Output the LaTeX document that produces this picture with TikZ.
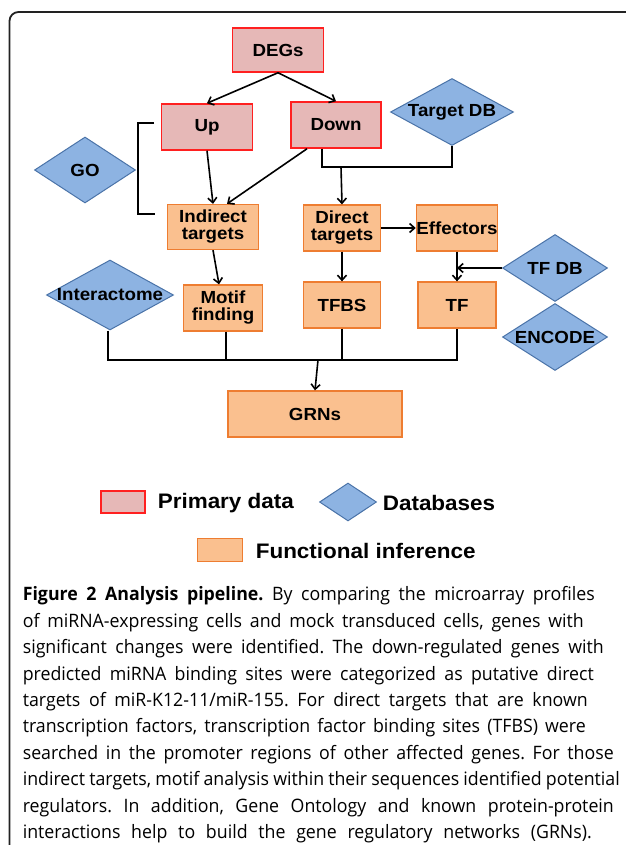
\documentclass[tikz,border=0pt]{standalone}
\usepackage{fontspec}
\newfontfamily\boxfont{Liberation Sans}[FakeStretch=1.07]
\newfontfamily\capfont{Open Sans}[FakeStretch=0.96]
\usetikzlibrary{shapes.geometric,arrows.meta}
\definecolor{pinkfill}{HTML}{E6B8B7}
\definecolor{redline}{HTML}{FF2020}
\definecolor{dbfill}{HTML}{8DB3E2}
\definecolor{dbline}{HTML}{4A73A8}
\definecolor{inffill}{HTML}{FAC08F}
\definecolor{infline}{HTML}{EE7D31}
\definecolor{frameline}{HTML}{222222}
\newcommand\capline[2]{\makebox[#1pt][s]{#2}}
\frenchspacing
\tikzset{
  primary/.style={draw=redline,fill=pinkfill,line width=1.5pt,inner sep=0pt,
    minimum width=91pt,minimum height=45pt,align=center},
  inference/.style={draw=infline,fill=inffill,line width=1.3pt,inner sep=0pt,
    minimum width=78pt,minimum height=46pt,align=center},
  database/.style={diamond,draw=dbline,fill=dbfill,line width=1pt,inner sep=0pt,
    minimum width=105pt,minimum height=67pt},
  legendtext/.style={anchor=west,inner sep=0pt,font=\boxfont\bfseries\fontsize{21}{23}\selectfont}
}
\begin{document}
\begin{tikzpicture}[
    x=1pt, y=-1pt, line width=1.6pt, >={Straight Barb[length=5pt,width=9pt]},
    every node/.style={font=\boxfont\bfseries\fontsize{17.5}{17}\selectfont}]
    \useasboundingbox (0,0) rectangle (625,845);
    \draw[frameline,line width=1.8pt,rounded corners=9pt] (9.5,848) -- (9.5,12) -- (628,12);
    % primary data
    \node[primary,minimum height=44pt] (degs) at (278,50) {DEGs};
    \node[primary,minimum height=46pt] (up) at (207,127) {Up};
    \node[primary,minimum width=90pt,minimum height=46pt] (down) at (336,125) {Down};
    % databases
    \node[database,minimum width=123pt,label=center:Target DB] (targetdb) at (452,112) {};
    \node[database,minimum width=101pt,minimum height=66pt,label=center:GO] (go) at (85,170) {};
    \node[database,minimum width=127pt,minimum height=70pt,label=center:Interactome] (interactome) at (110,295) {};
    \node[database,label=center:TF DB] (tfdb) at (555,268) {};
    \node[database,label=center:ENCODE] (encode) at (555,337) {};
    % functional inference
    \node[inference,minimum width=91pt,minimum height=45pt] (indirect) at (213,227) {Indirect\\targets};
    \node[inference,minimum width=77pt] (direct) at (342,228) {Direct\\targets};
    \node[inference] (effectors) at (457,228) {Effectors};
    \node[inference,minimum width=79pt] (motif) at (223,308) {Motif\\finding};
    \node[inference,minimum width=77pt] (tfbs) at (342,305) {TFBS};
    \node[inference] (tf) at (457,305) {TF};
    \node[inference,minimum width=174pt] (grns) at (315,414) {GRNs};
    % connectors
    \draw[->] (degs.south) -- (up.north);
    \draw[->] (degs.south) -- (down.north);
    \draw[->] (up.south) -- (indirect.north);
    \draw[->] ([xshift=-29pt]down.south) -- ([xshift=14pt]indirect.north);
    \coordinate (split) at (341,167);
    \draw ([xshift=-14pt]down.south) |- (split) -| (targetdb.south);
    \draw[->] (split) -- (direct.north);
    \draw[->] (direct.east) -- (effectors.west);
    \draw[->] (effectors.south) -- (tf.north);
    \draw[->] (tfdb.west) -- (tfdb.west -| effectors.south);
    \draw[->] (indirect.south) -- ([xshift=-4pt]motif.north);
    \draw[->] (direct.south) -- (tfbs.north);
    \coordinate (brtop) at (154,123);
    \coordinate (brbot) at (155,214);
    \draw (brtop) -- ++(-16,0) |- (brbot);
    \coordinate (bus) at (318,360);
    \draw ([xshift=-2pt]interactome.south) |- (tf.south |- bus) -- (tf.south);
    \draw ([xshift=3pt]motif.south) -- ([xshift=3pt]motif.south |- bus);
    \draw (tfbs.south) -- (tfbs.south |- bus);
    \draw[->] (bus) -- (grns.north);
    % legend
    \node[primary,line width=1.3pt,minimum width=44pt,minimum height=22pt] (legprimary) at (123,502) {};
    \node[legendtext] (legprimarytext) at (157,503) {Primary data};
    \node[database,minimum width=57pt,minimum height=38pt] (legdb) at (348,502) {};
    \node[legendtext] (legdbtext) at (382,503) {Databases};
    \node[inference,minimum width=45pt,minimum height=23pt] (leginf) at (220,550) {};
    \node[legendtext] (leginftext) at (255,551) {Functional inference};
    % caption
    \node[anchor=north west,inner sep=0pt,align=left,
      font=\capfont\fontsize{18.5}{26.4}\selectfont] (caption) at (22,586)
      {\capline{572}{{\bfseries Figure 2 Analysis pipeline.} By comparing the microarray profiles}\\
       \capline{561}{of miRNA-expressing cells and mock transduced cells, genes with}\\
       \capline{581}{significant changes were identified. The down-regulated genes with}\\
       \capline{571}{predicted miRNA binding sites were categorized as putative direct}\\
       \capline{565}{targets of miR-K12-11/miR-155. For direct targets that are known}\\
       \capline{563}{transcription factors, transcription factor binding sites (TFBS) were}\\
       \capline{591}{searched in the promoter regions of other affected genes. For those}\\
       \capline{597}{indirect targets, motif analysis within their sequences identified potential}\\
       \capline{591}{regulators. In addition, Gene Ontology and known protein-protein}\\
       \capline{569}{interactions help to build the gene regulatory networks (GRNs).}};
\end{tikzpicture}
\end{document}
